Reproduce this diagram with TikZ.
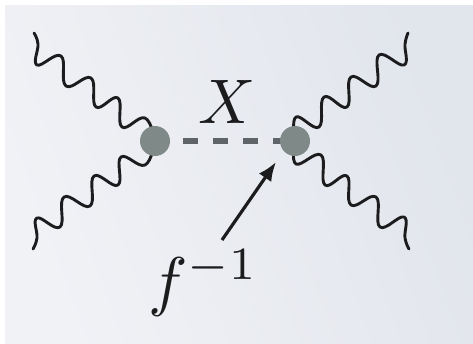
\documentclass[tikz,border=0pt]{standalone}
\usetikzlibrary{arrows.meta}
\definecolor{bgA}{HTML}{F1F2F6}
\definecolor{bgB}{HTML}{E1E5EC}
\definecolor{vertexgray}{HTML}{7F8A88}
\definecolor{dashgray}{HTML}{5F6468}
\definecolor{ink}{HTML}{1C1C1E}
\tikzset{
  wave/.style={draw=ink,line width=2.9pt,line cap=round,line join=round},
  vertex/.style={circle,fill=vertexgray,inner sep=0pt,minimum size=30pt},
  scalar/.style={draw=dashgray,line width=6pt,dash pattern=on 15pt off 15pt,dash phase=0pt},
  lbl/.style={inner sep=0pt,text=ink},
  pointer/.style={draw=ink,line width=3.2pt,-{Latex[length=19pt,width=15pt]}}
}
\begin{document}
\begin{tikzpicture}[x=1pt,y=-1pt]
\useasboundingbox (0,0) rectangle (473,343);
\fill[white] (0,0) rectangle (473,343);
\shade[left color=bgA,right color=bgB,shading angle=110] (5,5) rectangle (473,343);
\coordinate (tl) at (34,33);
\coordinate (bl) at (33,249);
\coordinate (tr) at (408,33);
\coordinate (br) at (409,249);
\coordinate (arrowstart) at (222,240);
\coordinate (arrowend) at (276,162);
\coordinate (scalarstart) at (183,141);
\coordinate (scalarend) at (283,141);
\path[wave] plot[smooth,tension=0.72] coordinates {(tl) (38,44) (37,65) (61,56) (66,86) (91,78) (96,107) (118,98) (122,127) (145,118) (155,141)};
\path[wave] plot[smooth,tension=0.72] coordinates {(bl) (37,238) (37,218) (60,227) (64,197) (90,206) (94,176) (118,185) (121,157) (145,165) (155,141)};
\path[wave] plot[smooth,tension=0.72] coordinates {(tr) (405,44) (404,65) (379,55) (376,86) (351,77) (347,107) (324,97) (319,127) (296,117) (295,141)};
\path[wave] plot[smooth,tension=0.72] coordinates {(br) (405,238) (404,217) (380,227) (376,197) (351,205) (347,176) (325,185) (321,155) (296,164) (295,141)};
\path[scalar] (scalarstart) -- (scalarend);
\node[vertex] (L) at (155,141) {};
\node[vertex] (R) at (295,141) {};
\node[lbl,anchor=base,scale=6.3] (xlabel) at (227,123) {$X$};
\node[lbl,anchor=base west,scale=6.6] (flabel) at (147,303) {$f^{-1}$};
\path[pointer] (arrowstart) -- (arrowend);
\end{tikzpicture}
\end{document}
